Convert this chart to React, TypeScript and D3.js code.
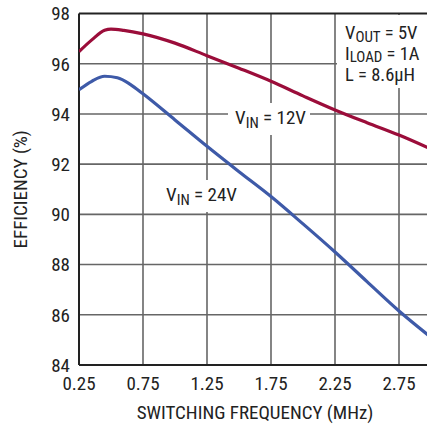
import React from "react";
import * as d3 from "d3";

const freq12 = [0.25, 0.35, 0.45, 0.5, 0.6, 0.75, 1.0, 1.25, 1.5, 1.75, 2.0, 2.25, 2.5, 2.75, 3.0];
const eff12 = [96.48, 96.95, 97.33, 97.38, 97.33, 97.19, 96.82, 96.32, 95.82, 95.3, 94.72, 94.16, 93.65, 93.16, 92.6];
const freq24 = [0.25, 0.35, 0.45, 0.55, 0.65, 0.75, 1.0, 1.25, 1.5, 1.75, 2.0, 2.25, 2.5, 2.75, 3.0];
const eff24 = [94.96, 95.3, 95.5, 95.44, 95.18, 94.8, 93.76, 92.71, 91.7, 90.71, 89.62, 88.5, 87.32, 86.15, 85.1];
const xTicks = [0.25, 0.75, 1.25, 1.75, 2.25, 2.75];
const xGrid = [0.75, 1.25, 1.75, 2.25, 2.75];
const yTicks = [84, 86, 88, 90, 92, 94, 96, 98];

const W = 427;
const H = 426;
const FONT = "'Liberation Sans Narrow', 'Arial Narrow', 'Roboto Condensed', 'Liberation Sans', sans-serif";

export default function App() {
  const x = d3.scaleLinear().domain([0.25, 3.0]).range([79, 431]);
  const y = d3.scaleLinear().domain([84, 98]).range([365, 13.5]);
  const line = d3
    .line<[number, number]>()
    .x((d) => x(d[0]))
    .y((d) => y(d[1]))
    .curve(d3.curveMonotoneX);
  const d12 = line(freq12.map((f, i) => [f, eff12[i]] as [number, number])) || "";
  const d24 = line(freq24.map((f, i) => [f, eff24[i]] as [number, number])) || "";
  const x0 = x(0.25);
  const x1 = x(3.0);
  const yTop = y(98);
  const yBot = y(84);
  const grid = "#666";
  const red = "#9b0d3a";
  const blue = "#3e5aa8";

  return (
    <div style={{ position: "absolute", left: 0, top: 0 }}>
      <svg width={W} height={H} style={{ display: "block", background: "#fff" }} fontFamily={FONT}>
        <defs>
          <clipPath id="plot">
            <rect x={x0} y={yTop} width={x1 - x0} height={yBot - yTop} />
          </clipPath>
        </defs>
        {/* grid */}
        {yTicks.filter((v) => v !== 84 && v !== 98).map((v) => (
          <line key={"gy" + v} x1={x0} x2={x1} y1={y(v)} y2={y(v)} stroke={grid} strokeWidth={1.6} />
        ))}
        {xGrid.map((f) => (
          <line key={"gx" + f} x1={x(f)} x2={x(f)} y1={yTop} y2={yBot} stroke={grid} strokeWidth={1.6} />
        ))}
        {/* label backgrounds */}
        <rect x={337} y={15} width={95} height={73} fill="#fff" />
        <rect x={228} y={103} width={82} height={32} fill="#fff" />
        <rect x={160} y={180} width={84} height={32} fill="#fff" />
        {/* frame */}
        <line x1={x0} x2={x1} y1={yTop} y2={yTop} stroke="#222" strokeWidth={2} />
        <line x1={x0} x2={x1} y1={yBot} y2={yBot} stroke="#222" strokeWidth={2} />
        <line x1={x0} x2={x0} y1={yTop} y2={yBot} stroke="#222" strokeWidth={2} />
        {/* curves */}
        <g clipPath="url(#plot)">
          <path d={d12} fill="none" stroke={red} strokeWidth={3.2} strokeLinejoin="round" />
          <path d={d24} fill="none" stroke={blue} strokeWidth={3.2} strokeLinejoin="round" />
        </g>
        {/* y ticks */}
        {yTicks.map((v) => (
          <text key={"ty" + v} x={70} y={y(v)} dy="0.36em" textAnchor="end" fontSize={19} fill="#222">
            {v}
          </text>
        ))}
        {/* x ticks */}
        {xTicks.map((f) => (
          <text key={"tx" + f} x={x(f)} y={390} textAnchor="middle" fontSize={19} fill="#222">
            {f.toFixed(2)}
          </text>
        ))}
        <text x={(x0 + x1) / 2} y={419} textAnchor="middle" fontSize={19} fill="#222">
          SWITCHING FREQUENCY (MHz)
        </text>
        <text transform={`translate(26.5,${(yTop + yBot) / 2}) rotate(-90)`} textAnchor="middle" fontSize={19} fill="#222">
          EFFICIENCY (%)
        </text>
        {/* annotations */}
        <text x={235} y={124} fontSize={19} fill="#222">
          V<tspan fontSize={15} dy={4}>IN</tspan>
          <tspan dy={-4}> = 12V</tspan>
        </text>
        <text x={166} y={201} fontSize={19} fill="#222">
          V<tspan fontSize={15} dy={4}>IN</tspan>
          <tspan dy={-4}> = 24V</tspan>
        </text>
        <text x={345} y={39} fontSize={18.5} fill="#222">
          V<tspan fontSize={15} dy={2.5}>OUT</tspan>
          <tspan dy={-2.5}> = 5V</tspan>
        </text>
        <text x={345} y={59.5} fontSize={18.5} fill="#222">
          I<tspan fontSize={15} dy={2.5}>LOAD</tspan>
          <tspan dy={-2.5}> = 1A</tspan>
        </text>
        <text x={345} y={80.7} fontSize={18.5} fill="#222">
          L = 8.6μH
        </text>
      </svg>
    </div>
  );
}
